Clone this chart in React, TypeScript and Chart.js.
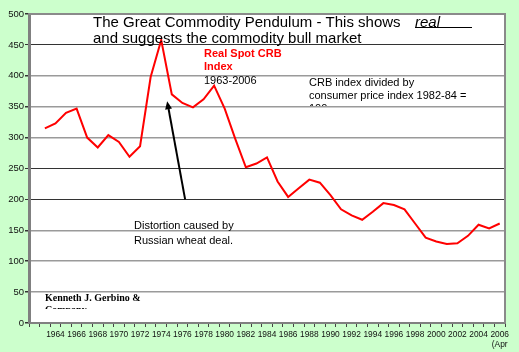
import React, { useEffect, useRef } from 'react';
import { Chart, registerables } from 'chart.js';

Chart.register(...registerables);

const categories = [
  '1962', '1963', '1964', '1965', '1966', '1967', '1968', '1969', '1970', '1971',
  '1972', '1973', '1974', '1975', '1976', '1977', '1978', '1979', '1980', '1981',
  '1982', '1983', '1984', '1985', '1986', '1987', '1988', '1989', '1990', '1991',
  '1992', '1993', '1994', '1995', '1996', '1997', '1998', '1999', '2000', '2001',
  '2002', '2003', '2004', '2005', '2006',
];

const realCrb = [
  null, 315, 323, 340, 347, 300, 284, 304, 293, 269,
  286, 398, 458, 370, 356, 349, 362, 384, 347, 298,
  252, 258, 268, 229, 204, 218, 232, 227, 207, 184,
  174, 167, 180, 194, 191, 184, 161, 138, 132, 128,
  129, 141, 159, 153, 161,
];

const shownYears = [
  '1964', '1966', '1968', '1970', '1972', '1974', '1976', '1978', '1980', '1982',
  '1984', '1986', '1988', '1990', '1992', '1994', '1996', '1998', '2000', '2002',
  '2004', '2006',
];

const lastLabelSuffix = '(Apr';
const darkGridValues = [450, 250, 200];

// Arrow annotation in data coordinates: [category index, value]
const arrowFrom = [14.26, 200];
const arrowTo = [12.56, 359];

const SANS = '"Liberation Sans", Arial, sans-serif';
const SERIF = '"Liberation Serif", "Times New Roman", serif';

export default function App() {
  const ref = useRef<HTMLCanvasElement>(null);

  useEffect(() => {
    const canvas = ref.current;
    if (!canvas) return;

    const decor = {
      id: 'decor',
      beforeDraw(chart: any) {
        const { ctx, chartArea: a } = chart;
        ctx.save();
        ctx.fillStyle = '#ccffcc';
        ctx.fillRect(0, 0, chart.width, chart.height);
        ctx.fillStyle = '#ffffff';
        ctx.fillRect(a.left, a.top, a.right - a.left, a.bottom - a.top);
        ctx.restore();
      },
      afterDraw(chart: any) {
        const { ctx, chartArea: a, scales } = chart;
        ctx.save();
        // frame (top and right)
        ctx.strokeStyle = '#8a8a8a';
        ctx.lineWidth = 2;
        ctx.beginPath();
        ctx.moveTo(a.left, a.top);
        ctx.lineTo(a.right, a.top);
        ctx.lineTo(a.right, a.bottom);
        ctx.stroke();

        ctx.fillStyle = '#000';
        ctx.textBaseline = 'alphabetic';
        ctx.textAlign = 'left';
        ctx.font = `15px ${SANS}`;
        ctx.fillText('The Great Commodity Pendulum - This shows', 93, 27);
        ctx.fillText('and suggests the commodity bull market', 93, 43);
        ctx.font = `italic 15px ${SANS}`;
        ctx.fillText('real', 415, 27);
        ctx.strokeStyle = '#000';
        ctx.lineWidth = 1;
        ctx.beginPath();
        ctx.moveTo(415, 27.5);
        ctx.lineTo(472, 27.5);
        ctx.stroke();

        ctx.fillStyle = '#ff0000';
        ctx.font = `bold 11px ${SANS}`;
        ctx.fillText('Real Spot CRB', 204, 57);
        ctx.fillText('Index', 204, 69.5);
        ctx.fillStyle = '#000';
        ctx.font = `11px ${SANS}`;
        ctx.fillText('1963-2006', 204, 83.5);

        ctx.fillText('CRB index divided by', 309, 86);
        ctx.fillText('consumer price index 1982-84 =', 309, 99);
        ctx.save();
        ctx.beginPath();
        ctx.rect(0, 0, chart.width, 106);
        ctx.clip();
        ctx.fillText('100', 309, 112);
        ctx.restore();

        ctx.fillText('Distortion caused by', 134, 228.5);
        ctx.fillText('Russian wheat deal.', 134, 243.5);

        ctx.font = `bold 10px ${SERIF}`;
        ctx.fillText('Kenneth J. Gerbino &', 45, 301);
        ctx.save();
        ctx.beginPath();
        ctx.rect(0, 0, chart.width, 309);
        ctx.clip();
        ctx.fillText('Company', 45, 313);
        ctx.restore();

        // arrow
        const x1 = scales.x.getPixelForValue(arrowFrom[0]);
        const y1 = scales.y.getPixelForValue(arrowFrom[1]);
        const x2 = scales.x.getPixelForValue(arrowTo[0]);
        const y2 = scales.y.getPixelForValue(arrowTo[1]);
        const ang = Math.atan2(y2 - y1, x2 - x1);
        const hl = 8;
        const hw = 3.5;
        const bx = x2 - hl * Math.cos(ang);
        const by = y2 - hl * Math.sin(ang);
        ctx.strokeStyle = '#000';
        ctx.lineWidth = 2;
        ctx.beginPath();
        ctx.moveTo(x1, y1);
        ctx.lineTo(bx, by);
        ctx.stroke();
        ctx.fillStyle = '#000';
        ctx.beginPath();
        ctx.moveTo(x2, y2);
        ctx.lineTo(bx + hw * Math.sin(ang), by - hw * Math.cos(ang));
        ctx.lineTo(bx - hw * Math.sin(ang), by + hw * Math.cos(ang));
        ctx.closePath();
        ctx.fill();
        ctx.restore();
      },
    };

    const chart = new Chart(canvas, {
      type: 'line',
      data: {
        labels: categories,
        datasets: [
          {
            data: realCrb as any,
            borderColor: '#ff0000',
            borderWidth: 2,
            pointRadius: 0,
            tension: 0,
            fill: false,
          },
        ],
      },
      options: {
        animation: false,
        responsive: false,
        events: [],
        layout: { padding: { top: 14, right: 14, left: 0, bottom: 0 } },
        plugins: { legend: { display: false }, tooltip: { enabled: false } },
        scales: {
          x: {
            type: 'category',
            offset: true,
            grid: {
              offset: true,
              drawOnChartArea: false,
              drawTicks: true,
              tickLength: 4,
              color: '#444',
            },
            border: { color: '#808080', width: 2 },
            ticks: {
              autoSkip: false,
              maxRotation: 0,
              minRotation: 0,
              padding: 3,
              color: '#111',
              font: { family: SANS, size: 8.4, lineHeight: 1.2 },
              callback: (_v: any, i: number) => {
                const lab = categories[i];
                if (!shownYears.includes(lab)) return '';
                if (i === categories.length - 1) return [lab, lastLabelSuffix];
                return lab;
              },
            },
            afterFit: (s: any) => {
              s.height = 29;
            },
          },
          y: {
            min: 0,
            max: 500,
            ticks: {
              stepSize: 50,
              padding: 1,
              color: '#111',
              font: { family: SANS, size: 9.5 },
            },
            grid: {
              color: (c: any) =>
                darkGridValues.includes(c.tick?.value) ? '#333' : '#9a9a9a',
              lineWidth: (c: any) =>
                darkGridValues.includes(c.tick?.value) ? 1 : 1.5,
              tickColor: '#333',
              tickLength: 4,
              drawTicks: true,
            },
            border: { color: '#808080', width: 3 },
            afterFit: (s: any) => {
              s.width = 29;
            },
          },
        },
      },
      plugins: [decor],
    });

    return () => chart.destroy();
  }, []);

  return (
    <div style={{ position: 'absolute', left: 0, top: 0, width: 519, height: 352 }}>
      <canvas ref={ref} width={519} height={352} style={{ display: 'block', width: 519, height: 352 }} />
    </div>
  );
}
